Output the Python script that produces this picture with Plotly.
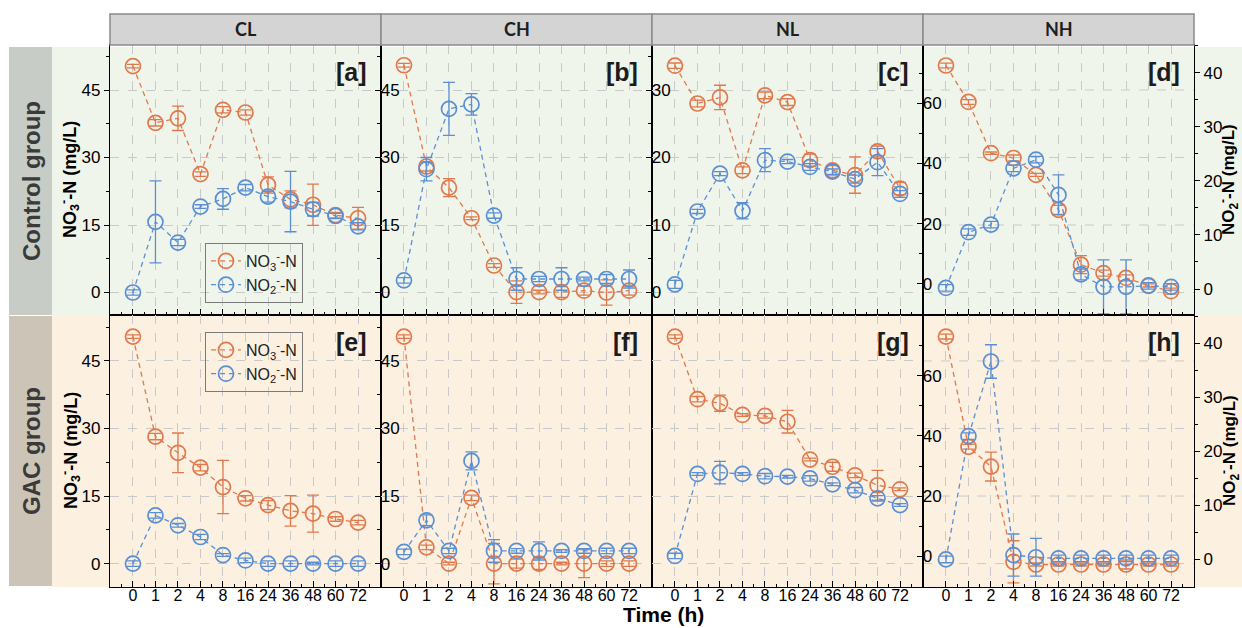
import plotly.graph_objects as go

W, H = 1242, 628

time_labels = ["0", "1", "2", "4", "8", "16", "24", "36", "48", "60", "72"]
columns = ["CL", "CH", "NL", "NH"]
panel_tags = ["[a]", "[b]", "[c]", "[d]", "[e]", "[f]", "[g]", "[h]"]
row_names = ["Control group", "GAC group"]

# Control group
CL_NO3 = [50.3, 37.7, 38.7, 26.3, 40.6, 40.0, 23.9, 20.7, 19.5, 17.2, 16.5]
CL_NO3_err = [0.4, 0.7, 2.7, 0.5, 0.7, 0.6, 1.8, 1.9, 4.6, 0.6, 2.4]
CL_NO2 = [0.0, 15.7, 11.1, 19.1, 20.8, 23.3, 21.3, 20.2, 18.5, 17.0, 14.7]
CL_NO2_err = [0.6, 9.1, 0.7, 0.4, 2.3, 0.7, 1.2, 6.7, 1.5, 0.6, 0.8]

CH_NO3 = [50.5, 28.0, 23.3, 16.5, 6.0, 0.1, 0.1, 0.1, 0.4, 0.0, 0.4]
CH_NO3_err = [0.4, 1.0, 2.0, 0.3, 0.4, 2.5, 0.4, 1.2, 1.0, 2.8, 1.0]
CH_NO2 = [2.7, 27.4, 40.8, 41.8, 17.1, 3.0, 3.0, 3.0, 3.0, 3.0, 3.0]
CH_NO2_err = [0.6, 2.6, 5.9, 2.4, 0.6, 2.5, 0.6, 2.5, 0.4, 1.0, 2.0]

NL_NO3 = [33.6, 28.0, 28.9, 18.1, 29.2, 28.2, 19.6, 18.1, 17.4, 20.9, 15.4]
NL_NO3_err = [0.4, 0.5, 1.8, 0.5, 0.5, 0.5, 0.9, 0.7, 2.7, 0.8, 0.9]
NL_NO2 = [1.2, 12.0, 17.6, 12.1, 19.6, 19.4, 18.6, 17.9, 16.8, 19.3, 14.6]
NL_NO2_err = [0.6, 0.3, 0.3, 1.2, 1.7, 0.3, 0.5, 0.4, 0.6, 2.0, 0.5]

NH_NO3 = [72.5, 60.4, 43.4, 41.8, 36.2, 24.6, 6.4, 3.6, 2.0, -0.5, -2.4]
NH_NO3_err = [0.8, 0.8, 0.4, 1.0, 0.5, 1.5, 3.0, 1.0, 1.0, 0.5, 1.0]
NH_NO2 = [0.2, 10.5, 11.9, 22.3, 23.9, 17.4, 2.7, 0.4, 0.4, 0.6, 0.4]
NH_NO2_err = [0.6, 0.6, 0.6, 0.6, 0.6, 3.7, 1.0, 5.0, 5.0, 0.6, 0.6]

# GAC group
CL_GAC_NO3 = [50.4, 28.2, 24.6, 21.3, 17.0, 14.5, 13.0, 11.7, 11.1, 9.9, 9.1]
CL_GAC_NO3_err = [0.4, 0.7, 4.4, 0.7, 5.9, 0.6, 1.0, 3.4, 4.1, 0.5, 0.5]
CL_GAC_NO2 = [0.0, 10.7, 8.5, 5.9, 1.9, 0.7, 0.0, 0.0, 0.0, 0.0, 0.0]
CL_GAC_NO2_err = [0.6, 0.6, 0.4, 0.6, 0.3, 0.5, 0.6, 0.6, 0.3, 0.6, 0.6]

CH_GAC_NO3 = [50.4, 3.6, 0.0, 14.6, 0.0, 0.0, 0.0, 0.0, 0.0, 0.0, 0.0]
CH_GAC_NO3_err = [0.4, 0.5, 0.3, 0.6, 4.5, 1.0, 1.3, 0.3, 3.1, 0.6, 0.6]
CH_GAC_NO2 = [2.6, 9.6, 2.8, 22.8, 2.8, 2.8, 2.8, 2.8, 2.8, 2.8, 2.8]
CH_GAC_NO2_err = [0.6, 1.2, 0.6, 2.0, 2.5, 0.5, 2.0, 0.3, 0.5, 0.6, 0.6]

NL_GAC_NO3 = [50.4, 36.5, 35.6, 33.0, 32.8, 31.5, 23.1, 21.5, 19.6, 17.4, 16.5]
NL_GAC_NO3_err = [0.4, 0.6, 1.8, 0.3, 0.5, 2.5, 0.3, 1.0, 0.5, 3.3, 0.3]
NL_GAC_NO2 = [1.7, 19.9, 20.2, 19.9, 19.4, 19.3, 18.9, 17.6, 16.3, 14.5, 13.0]
NL_GAC_NO2_err = [0.6, 0.3, 2.5, 0.3, 0.6, 0.3, 0.6, 0.3, 0.6, 0.6, 0.3]

NH_GAC_NO3 = [73.1, 36.4, 29.8, -1.9, -2.8, -2.8, -2.8, -2.8, -2.8, -2.8, -2.8]
NH_GAC_NO3_err = [0.8, 0.8, 4.8, 7.0, 0.5, 0.5, 0.5, 0.5, 1.5, 0.5, 0.5]
NH_GAC_NO2 = [0.0, 22.8, 36.6, 0.8, 0.4, 0.2, 0.2, 0.2, 0.2, 0.2, 0.2]
NH_GAC_NO2_err = [0.6, 0.6, 3.1, 3.9, 3.5, 0.6, 0.6, 0.6, 0.6, 0.6, 0.6]

panels = [
    (CL_NO3, CL_NO3_err, CL_NO2, CL_NO2_err),
    (CH_NO3, CH_NO3_err, CH_NO2, CH_NO2_err),
    (NL_NO3, NL_NO3_err, NL_NO2, NL_NO2_err),
    (NH_NO3, NH_NO3_err, NH_NO2, NH_NO2_err),
    (CL_GAC_NO3, CL_GAC_NO3_err, CL_GAC_NO2, CL_GAC_NO2_err),
    (CH_GAC_NO3, CH_GAC_NO3_err, CH_GAC_NO2, CH_GAC_NO2_err),
    (NL_GAC_NO3, NL_GAC_NO3_err, NL_GAC_NO2, NL_GAC_NO2_err),
    (NH_GAC_NO3, NH_GAC_NO3_err, NH_GAC_NO2, NH_GAC_NO2_err),
]

ORANGE = "#E0794C"
BLUE = "#5B8FD4"
FONT = "Liberation Sans"

# geometry (pixels)
col_px = [(110, 381), (381, 652), (652, 923), (923, 1194)]
row_px = [(45, 315), (315, 587)]


def px(x):
    return x / W


def py(y):
    return 1 - y / H


xdom = [[px(a), px(b)] for a, b in col_px]
ydom = [[py(b), py(a)] for a, b in row_px]

fig = go.Figure()
xi = list(range(len(time_labels)))

NO3_NAME = "NO<sub>3</sub><sup>-</sup>-N"
NO2_NAME = "NO<sub>2</sub><sup>-</sup>-N"


def add_series(y, err, color, name, xa, ya, legend, show):
    fig.add_trace(go.Scatter(
        x=xi, y=y, name=name, mode="lines+markers",
        xaxis=xa, yaxis=ya,
        line=dict(color=color, width=1.3, dash="5px,4px"),
        marker=dict(symbol="circle-open", size=15, color=color,
                    line=dict(width=1.7, color=color)),
        error_y=dict(type="data", array=err, color=color, thickness=1.3, width=6, visible=True),
        showlegend=show, legend=legend,
    ))


for i, (no3, no3e, no2, no2e) in enumerate(panels):
    n = i + 1
    xa = "x" if n == 1 else f"x{n}"
    ya = "y" if n == 1 else f"y{n}"
    col = i % 4
    leg = "legend2" if i == 4 else "legend"
    show = i in (0, 4)
    add_series(no3, no3e, ORANGE, NO3_NAME, xa, ya, leg, show)
    if col == 3:
        ya2 = "y9" if i == 3 else "y10"
        add_series(no2, no2e, BLUE, NO2_NAME, xa, ya2, leg, show)
    else:
        add_series(no2, no2e, BLUE, NO2_NAME, xa, ya, leg, show)

tickfont = dict(size=17, family=FONT, color="black")
layout = {}
y_ranges = {
    0: [-5, 55], 1: [-5, 55], 2: [-10 / 3, 110 / 3], 3: [-10.3, 79.3],
    4: [-5.2, 55.2], 5: [-5.2, 55.2], 6: [-5.2, 55.2], 7: [-10.3, 80.3],
}
for i in range(8):
    n = i + 1
    row, col = divmod(i, 4)
    xk = "xaxis" if n == 1 else f"xaxis{n}"
    yk = "yaxis" if n == 1 else f"yaxis{n}"
    layout[xk] = dict(
        domain=xdom[col], anchor="y" if n == 1 else f"y{n}",
        range=[-1.02, len(time_labels) - 1 + 1.02],
        tickmode="array", tickvals=xi, ticktext=time_labels,
        showticklabels=(row == 1), ticks="inside", ticklen=6, tickwidth=1.2, tickcolor="black",
        ticklabelstandoff=-6,
        minor=dict(ticks="inside", ticklen=3, tickwidth=1, tickcolor="black",
                   tickmode="linear", tick0=0.5, dtick=1, showgrid=False),
        showgrid=True, gridcolor="#c9c9c9", griddash="dash", gridwidth=1,
        showline=True, mirror=True, linecolor="black", linewidth=1.4, zeroline=False,
        tickfont=dict(size=16, family=FONT, color="black"), fixedrange=True,
    )
    yd = dict(domain=ydom[row], anchor="x" if n == 1 else f"x{n}", range=y_ranges[i],
              showline=True, mirror=True, linecolor="black", linewidth=1.4, zeroline=False,
              tickfont=tickfont, tickcolor="black", tickwidth=1.2, fixedrange=True,
              gridcolor="#c9c9c9", griddash="dash", gridwidth=1)
    if col in (0, 1) or i == 6:
        yd.update(tickmode="array", tickvals=[0, 15, 30, 45],
                  minor=dict(tickmode="array", tickvals=[7.5, 22.5, 37.5, 52.5],
                             ticks="outside", ticklen=3, tickcolor="black", showgrid=False),
                  showgrid=True)
    elif i == 2:
        yd.update(tickmode="array", tickvals=[0, 10, 20, 30],
                  minor=dict(tickmode="array", tickvals=[5, 15, 25, 35],
                             ticks="outside", ticklen=3, tickcolor="black", showgrid=False),
                  showgrid=True)
    else:
        yd.update(tickmode="array", tickvals=[0, 20, 40, 60],
                  minor=dict(tickmode="array", tickvals=[10, 30, 50, 70],
                             ticks="outside", ticklen=3, tickcolor="black", showgrid=False),
                  showgrid=False)
    if i == 6:
        yd.update(ticks="", showticklabels=False,
                  minor=dict(ticks="", showgrid=False))
    elif col == 0:
        yd.update(ticks="outside", ticklen=5)
    else:
        yd.update(ticks="outside", ticklen=5, ticklabelposition="inside")
    layout[yk] = yd

for k, base, rng, xa in (("yaxis9", "y4", [-4.8, 45.1], "x4"), ("yaxis10", "y8", [-5.1, 45.2], "x8")):
    layout[k] = dict(
        overlaying=base, anchor=xa, side="right", range=rng,
        tickmode="array", tickvals=[0, 10, 20, 30, 40],
        minor=dict(tickmode="array", tickvals=[5, 15, 25, 35, 45],
                   ticks="outside", ticklen=3, tickcolor="black", showgrid=False),
        ticks="outside", ticklen=5, tickwidth=1.2, tickcolor="black",
        showgrid=False, zeroline=False, showline=True, linecolor="black", linewidth=1.4,
        tickfont=tickfont, fixedrange=True,
    )

shapes = []
# row backgrounds
shapes.append(dict(type="rect", xref="paper", yref="paper", x0=px(52), x1=1, y0=py(315), y1=py(47),
                   fillcolor="#F0F5EB", line=dict(width=0), layer="below"))
shapes.append(dict(type="rect", xref="paper", yref="paper", x0=px(52), x1=1, y0=py(587), y1=py(315),
                   fillcolor="#FCF0E0", line=dict(width=0), layer="below"))
# side label boxes
shapes.append(dict(type="rect", xref="paper", yref="paper", x0=px(9), x1=px(52), y0=py(315), y1=py(47),
                   fillcolor="#C7CDC6", line=dict(width=0), layer="below"))
shapes.append(dict(type="rect", xref="paper", yref="paper", x0=px(9), x1=px(52), y0=py(586), y1=py(316),
                   fillcolor="#CCC4B7", line=dict(width=0), layer="below"))
# header boxes
for (a, b) in col_px:
    shapes.append(dict(type="rect", xref="paper", yref="paper", x0=px(a), x1=px(b), y0=py(45), y1=py(14),
                       fillcolor="#D4D4D4", line=dict(width=1.5, color="#8A8A8A"), layer="above"))
# gridlines for panels whose left ticks do not align with the row grid
for n, rng in ((4, [-5, 55]), (8, [-5.2, 55.2])):
    for v in (0, 15, 30, 45):
        f = (v - rng[0]) / (rng[1] - rng[0])
        shapes.append(dict(type="line", xref=f"x{n} domain", yref=f"y{n} domain", x0=0, x1=1, y0=f, y1=f,
                           line=dict(color="#c9c9c9", width=1, dash="dash"), layer="below"))

ann = []
for i, tag in enumerate(panel_tags):
    row, col = divmod(i, 4)
    ann.append(dict(text=f"<b>{tag}</b>", xref="paper", yref="paper",
                    x=px(col_px[col][1] - 12), y=py(row_px[row][0] + 27),
                    xanchor="right", yanchor="middle", showarrow=False,
                    font=dict(size=25, family=FONT, color="#1c1c1c")))
for (a, b), name in zip(col_px, columns):
    ann.append(dict(text=f"<b>{name}</b>", xref="paper", yref="paper", x=px((a + b) / 2), y=py(29.5),
                    xanchor="center", yanchor="middle", showarrow=False,
                    font=dict(size=18, family="Lato", color="#1e1e1e")))
for (t, b), name in zip([(47, 315), (316, 586)], row_names):
    ann.append(dict(text=f"<b>{name}</b>", xref="paper", yref="paper", x=px(31), y=py((t + b) / 2),
                    xanchor="center", yanchor="middle", textangle=-90, showarrow=False,
                    font=dict(size=24, family=FONT, color="#3a3a3a")))
for (t, b) in row_px:
    ann.append(dict(text=f"<b>{NO3_NAME} (mg/L)</b>", xref="paper", yref="paper", x=px(70), y=py((t + b) / 2),
                    xanchor="center", yanchor="middle", textangle=-90, showarrow=False,
                    font=dict(size=18, family=FONT, color="black")))
    ann.append(dict(text=f"<b>{NO2_NAME} (mg/L)</b>", xref="paper", yref="paper", x=px(1229), y=py((t + b) / 2),
                    xanchor="center", yanchor="middle", textangle=-90, showarrow=False,
                    font=dict(size=17, family=FONT, color="black")))
ann.append(dict(text="<b>Time (h)</b>", xref="paper", yref="paper", x=px(663), y=py(614),
                xanchor="center", yanchor="middle", showarrow=False,
                font=dict(size=21, family=FONT, color="black")))

legend_style = dict(xanchor="left", yanchor="top", bgcolor="rgba(0,0,0,0)",
                    bordercolor="#7a7a7a", borderwidth=1, tracegroupgap=0, itemwidth=30,
                    font=dict(size=16, family=FONT, color="#222222"))

fig.update_layout(
    width=W, height=H, autosize=False,
    margin=dict(l=0, r=0, t=0, b=0),
    paper_bgcolor="white", plot_bgcolor="rgba(0,0,0,0)",
    shapes=shapes, annotations=ann,
    legend=dict(x=px(205), y=py(243), **legend_style),
    legend2=dict(x=px(205), y=py(332), **legend_style),
    **layout,
)

fig.write_html("out.html", config={"displayModeBar": False},
               post_script="document.body.style.margin='0px';document.body.style.overflow='hidden';")
